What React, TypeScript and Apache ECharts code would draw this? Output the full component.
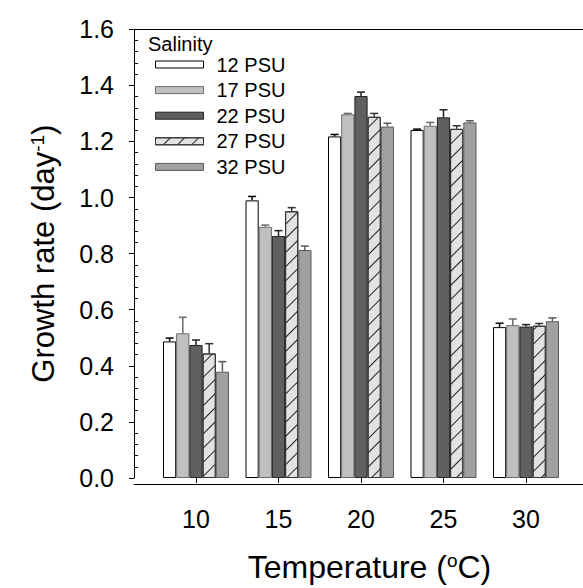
import React, { useEffect, useRef } from "react";
import * as echarts from "echarts";

const categories = ["10", "15", "20", "25", "30"];
const seriesNames = ["12 PSU", "17 PSU", "22 PSU", "27 PSU", "32 PSU"];
const s12 = [0.487, 0.99, 1.218, 1.241, 0.538];
const e12 = [0.012, 0.014, 0.007, 0.003, 0.014];
const s17 = [0.516, 0.896, 1.297, 1.256, 0.545];
const e17 = [0.057, 0.006, 0.003, 0.012, 0.022];
const s22 = [0.474, 0.863, 1.362, 1.286, 0.54];
const e22 = [0.018, 0.019, 0.014, 0.027, 0.007];
const s27 = [0.444, 0.951, 1.288, 1.245, 0.543];
const e27 = [0.035, 0.013, 0.012, 0.011, 0.008];
const s32 = [0.379, 0.813, 1.253, 1.268, 0.559];
const e32 = [0.036, 0.014, 0.012, 0.006, 0.012];
const yTicks = [0, 0.2, 0.4, 0.6, 0.8, 1.0, 1.2, 1.4, 1.6];

const means = [s12, s17, s22, s27, s32];
const errs = [e12, e17, e22, e27, e32];
const fills = ["#ffffff", "#c0c0c0", "#606060", "#e2e2e2", "#a0a0a0"];
const borders = ["#000000", "#6a6a6a", "#222222", "#333333", "#5a5a5a"];
const FONT = "Liberation Sans, Arial, sans-serif";

export default function App() {
  const ref = useRef<HTMLDivElement>(null);
  useEffect(() => {
    document.body.style.margin = "0";
    if (!ref.current) return;
    const chart = echarts.init(ref.current, undefined, { renderer: "svg" });
    const barSeries = seriesNames.map((name, i) => ({
      name,
      type: "bar",
      xAxisIndex: 0,
      yAxisIndex: 0,
      barGap: "0%",
      barCategoryGap: "20%",
      z: 2,
      data: means[i],
      itemStyle: {
        color: fills[i],
        borderColor: borders[i],
        borderWidth: 1,
        ...(i === 3
          ? {
              decal: {
                symbol: "rect",
                symbolSize: 1,
                color: "#222222",
                dashArrayX: [1, 0],
                dashArrayY: [0.8, 9],
                rotation: -Math.PI / 4,
              },
            }
          : {}),
      },
    }));
    const errSeries = seriesNames.map((name, i) => ({
      name: "err " + name,
      type: "custom",
      xAxisIndex: 0,
      yAxisIndex: 0,
      z: 3,
      encode: { x: 0, y: 1 },
      data: categories.map((c, j) => [j, means[i][j], errs[i][j]]),
      renderItem: (params: any, api: any) => {
        const j = api.value(0);
        const v = api.value(1);
        const e = api.value(2);
        const base = api.coord([j, v]);
        const top = api.coord([j, v + e]);
        const band = api.size([1, 0])[0];
        const bw = (band * 0.8) / 5;
        const cx = base[0] + (i - 2) * bw;
        const cap = 4;
        const style = { stroke: borders[i], lineWidth: 1.5 };
        return {
          type: "group",
          children: [
            { type: "line", shape: { x1: cx, y1: base[1], x2: cx, y2: top[1] }, style },
            { type: "line", shape: { x1: cx - cap, y1: top[1], x2: cx + cap, y2: top[1] }, style },
          ],
        };
      },
    }));
    const option: any = {
      animation: false,
      textStyle: { fontFamily: FONT, color: "#000" },
      title: {
        text: "Salinity",
        left: 148,
        top: 34,
        padding: 0,
        textStyle: { fontSize: 20, fontWeight: "normal", color: "#000", fontFamily: FONT },
      },
      legend: {
        orient: "vertical",
        left: 155,
        top: 54.5,
        padding: 0,
        itemWidth: 48,
        itemHeight: 7,
        itemGap: 5.6,
        icon: "rect",
        data: seriesNames,
        selectedMode: false,
        itemStyle: { borderWidth: 1 },
        textStyle: { fontSize: 20, color: "#000", fontFamily: FONT, padding: [0, 0, 0, 8] },
      },
      grid: [
        { left: 154.75, right: 15.75, top: 29.3, bottom: 104 },
        { left: 134, right: 0, top: 29.3, bottom: 104 },
      ],
      xAxis: [
        {
          gridIndex: 0,
          type: "category",
          data: categories,
          axisLine: { show: false },
          axisTick: { show: true, alignWithLabel: true, length: 5, lineStyle: { color: "#000" } },
          axisLabel: { fontSize: 25, color: "#000", margin: 28, fontFamily: FONT },
          name: "{a|Temperature (}{sup|o}{a|C)}",
          nameLocation: "middle",
          nameGap: 73,
          nameTextStyle: {
            padding: [0, 0, 0, 17],
            rich: {
              a: { fontSize: 32, color: "#000", fontFamily: FONT },
              sup: { fontSize: 19, color: "#000", fontFamily: FONT, verticalAlign: "top", lineHeight: 12 },
            },
          },
        },
        {
          gridIndex: 1,
          type: "value",
          min: 0,
          max: 1,
          position: "bottom",
          axisLine: { show: true, onZero: false, lineStyle: { color: "#000", width: 1 } },
          axisTick: { show: false },
          axisLabel: { show: false },
          splitLine: { show: false },
        },
        {
          gridIndex: 1,
          type: "value",
          min: 0,
          max: 1,
          position: "top",
          axisLine: { show: true, onZero: false, lineStyle: { color: "#000", width: 1 } },
          axisTick: { show: false },
          axisLabel: { show: false },
          splitLine: { show: false },
        },
      ],
      yAxis: [
        {
          gridIndex: 0,
          type: "value",
          position: "left",
          offset: 20.75,
          min: yTicks[0],
          max: yTicks[yTicks.length - 1],
          interval: 0.2,
          axisLine: { show: true, lineStyle: { color: "#000", width: 1 } },
          axisTick: { show: true, length: 5, lineStyle: { color: "#000" } },
          axisLabel: {
            fontSize: 25,
            color: "#000",
            margin: 20,
            fontFamily: FONT,
            formatter: (v: number) => v.toFixed(1),
          },
          splitLine: { show: false },
          name: "{a|Growth rate (day}{sup|-1}{a|)}",
          nameLocation: "middle",
          nameGap: 75,
          nameTextStyle: {
            rich: {
              a: { fontSize: 31, color: "#000", fontFamily: FONT },
              sup: { fontSize: 19, color: "#000", fontFamily: FONT, verticalAlign: "top", lineHeight: 12 },
            },
          },
        },
        {
          gridIndex: 0,
          type: "value",
          position: "left",
          offset: 20.75,
          min: 0,
          max: 1.6,
          interval: 0.2,
          axisLine: { show: false },
          axisTick: { show: false, inside: true },
          minorTick: { show: true, splitNumber: 5, length: 4, lineStyle: { color: "#000" } },
          axisLabel: { show: false },
          splitLine: { show: false },
        },
        {
          gridIndex: 1,
          type: "value",
          min: 0,
          max: 1,
          show: false,
        },
      ],
      series: [...barSeries, ...errSeries],
    };
    chart.setOption(option);
    return () => chart.dispose();
  }, []);
  return <div ref={ref} style={{ width: 583, height: 588 }} />;
}
